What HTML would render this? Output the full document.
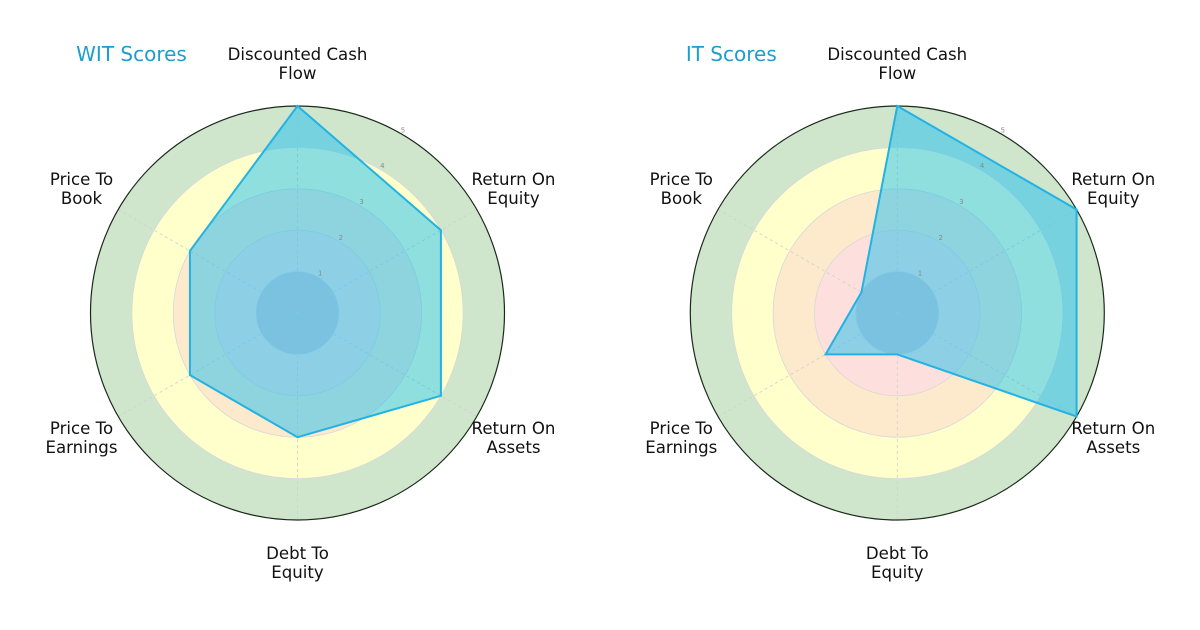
<!DOCTYPE html>
<html><head><meta charset="utf-8"><style>
body{margin:0;background:#fff;}
svg text{font-family:"DejaVu Sans","Liberation Sans",sans-serif;}
</style></head><body>
<svg id="chart" width="1200" height="625" viewBox="0 0 1200 625" xmlns="http://www.w3.org/2000/svg"></svg>
<script>
const categories = ["Discounted Cash\nFlow","Return On\nEquity","Return On\nAssets","Debt To\nEquity","Price To\nEarnings","Price To\nBook"];
const witScores = [5,4,4,3,3,3];
const itScores = [5,5,5,1,2,1];
const tickLabels = ["1","2","3","4","5"];
const titles = ["WIT Scores","IT Scores"];

const NS="http://www.w3.org/2000/svg";
const svg=document.getElementById('chart');
function mk(tag,attrs,parent){const e=document.createElementNS(NS,tag);for(const k in attrs)e.setAttribute(k,attrs[k]);(parent||svg).appendChild(e);return e;}
const R=207, MAXV=5;
function rScale(v){return v/MAXV*R;}
function pt(cx,cy,i,v){const a=-Math.PI/2+i*2*Math.PI/categories.length;return [cx+rScale(v)*Math.cos(a),cy+rScale(v)*Math.sin(a)];}

function drawRadar(cx,cy,values,title,key){
  const g=mk('g',{});
  
  
  const bands=[[5,'#cfe5cc'],[4,'#ffffcc'],[3,'#fde9cc'],[2,'#fde0dd'],[1,'#d8c4d2']];
  bands.forEach(b=>{const c=mk('circle',{cx:cx,cy:cy,r:rScale(b[0]),fill:b[1]},g);
    
    });
  for(let t=1;t<=4;t++){const c=mk('circle',{cx:cx,cy:cy,r:rScale(t),fill:'none',stroke:'#d8d8d8','stroke-width':0.8},g);
    
    }
  categories.forEach((c,i)=>{const p=pt(cx,cy,i,MAXV);const l=mk('line',{x1:cx,y1:cy,x2:p[0],y2:p[1],stroke:'#d0d0d0','stroke-width':0.8,'stroke-dasharray':'3,3'},g);
    
    });
  const outer=mk('circle',{cx:cx,cy:cy,r:R,fill:'none',stroke:'#1a2a1a','stroke-width':1.2},g);
  
  
  const pts=values.map((v,i)=>pt(cx,cy,i,v).join(',')).join(' ');
  const poly=mk('polygon',{points:pts,fill:'#1ec0ef','fill-opacity':0.5,stroke:'#22b2e3','stroke-width':2,'stroke-linejoin':'miter'},g);
  
  
  tickLabels.forEach((t,i)=>{const a=-Math.PI/2+Math.PI/6;const rr=rScale(i+1)+4;
    const tx=mk('text',{x:cx+rr*Math.cos(a),y:cy+rr*Math.sin(a)+2,'font-size':7,fill:'#888','text-anchor':'middle'},g);
    tx.textContent=t;
    
    });
  const lx=[cx,cx+216,cx+216,cx,cx-216,cx-216];
  const ly=[cy-253,cy-128,cy+121,cy+246,cy+121,cy-128];
  categories.forEach((c,i)=>{const lines=c.split('\n');
    const tx=mk('text',{x:lx[i],y:ly[i],'font-size':16.6,fill:'#111','text-anchor':'middle'},g);
    
    
    lines.forEach((ln,j)=>{const ts=mk('tspan',{x:lx[i],dy:j?18.8:0},tx);ts.textContent=ln;});});
  const tt=mk('text',{x:cx-166,y:cy-252,'font-size':20,fill:'#1a9fcf','text-anchor':'middle'},g);
  tt.textContent=title;
  
  
}
drawRadar(297.5,313,witScores,titles[0],'wit');
drawRadar(897.3,313,itScores,titles[1],'it');
</script>
</body></html>
